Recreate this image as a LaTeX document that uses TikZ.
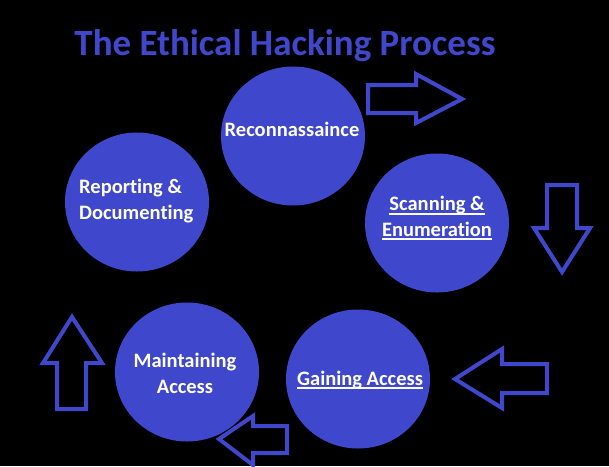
\documentclass[tikz,border=0pt]{standalone}
\usepackage{fontspec}
\setmainfont{Carlito}[Ligatures={TeX,NoCommon}]
\usepackage{tikz}
\usetikzlibrary{shapes.geometric}
\definecolor{H}{RGB}{63,72,204}
\newcommand{\drawblock}{\draw[H, line width=4pt, line join=miter]}
\newcommand{\ultext}[1]{\setbox0\hbox{#1}\rlap{\rule[-4pt]{\wd0}{2pt}}\box0}
\tikzset{stepcircle/.style={ellipse, fill=H, minimum width=144pt, minimum height=139pt, inner sep=0pt},
    steptext/.style={text=white, inner sep=0pt, font=\fontsize{20.5}{25.5}\selectfont\bfseries}}

\begin{document}
\begin{tikzpicture}[x=1pt,y=-1pt]
\fill[black] (0,0) rectangle (609,466);
\useasboundingbox (0,0) rectangle (609,466);
\node[H, font=\fontsize{37}{40}\selectfont\bfseries, anchor=base] (title) at (285,55) {The Ethical Hacking Process};
\node[stepcircle] (recon) at (293,136) {};
\node[stepcircle] (scan) at (437,223) {};
\node[stepcircle] (gain) at (358,379) {};
\node[stepcircle] (maintain) at (187,372) {};
\node[stepcircle] (report) at (137,202) {};
\node[steptext, anchor=base] (recon text) at (292,136) {Reconnassaince};
\node[steptext, anchor=base, align=center] (scan text) at (437,236) {\ultext{Scanning \&}\\\ultext{Enumeration}};
\node[steptext, anchor=base] (gain text) at (360,385) {\ultext{Gaining Access}};
\node[steptext, anchor=base, align=center] (maintain text) at (185,393) {Maintaining\\Access};
\node[steptext, anchor=base west, align=left] (report text) at (79,219) {Reporting \&\\Documenting};
\drawblock (368,85)--++(48,0)--++(0,-11)--++(46,25)--++(-46,24)--++(0,-10)--++(-48,0)--cycle;
    \drawblock (547,185)--++(30,0)--++(0,43)--++(13,0)--++(-28,44)--++(-28,-44)--++(13,0)--cycle;
    \drawblock (547,364)--++(-45,0)--++(0,-15)--++(-47,30)--++(47,29)--++(0,-15)--++(45,0)--cycle;
    \drawblock (287,426)--++(-34,0)--++(0,-10)--++(-34,23)--++(34,26)--++(0,-12)--++(34,0)--cycle;
    \drawblock (57,409)--++(0,-46)--++(-14,0)--++(29,-46)--++(30,46)--++(-16,0)--++(0,46)--cycle;
\end{tikzpicture}
\end{document}
